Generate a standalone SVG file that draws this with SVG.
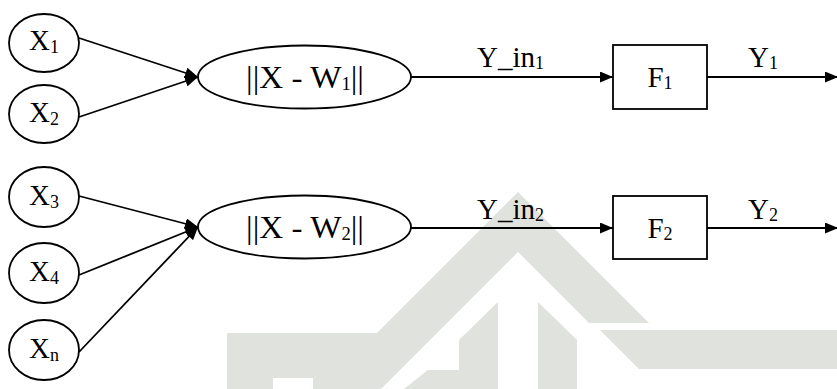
<svg xmlns="http://www.w3.org/2000/svg" width="837" height="389" viewBox="0 0 837 389">
<style>
.wm{fill:#e0e2dd;stroke:none}
.nd{fill:#fff;stroke:#000;stroke-width:1.8}
.t{font-family:"Liberation Serif","Times New Roman",serif;font-size:29px;fill:#000}
.e{font-size:32px}
.s{font-size:18px}
.ln{stroke:#000;stroke-width:1.8;fill:none;marker-end:url(#ah)}
</style>
<defs>
<marker id="ah" viewBox="0 0 13 11" refX="13" refY="5.5" markerWidth="13" markerHeight="11" markerUnits="userSpaceOnUse" orient="auto">
<path d="M0,0 L13,5.5 L0,11 Z" fill="#000"/>
</marker>
</defs>
<g id="watermark">
<polygon class="wm" points="227,389 227,333 377,333 518,192 649,323 589,323 518,252 381,389 313,389 313,378 273,378 273,389"/>
<polygon class="wm" points="459,340 498,302 498,389 404,389 428,370 459,370"/>
<polygon class="wm" points="538,302 577,340 577,389 538,389"/>
<polygon class="wm" points="600,330 837,330 837,369 639,369"/>
</g>
<g id="connectors">
<line class="ln" x1="79" y1="38" x2="198" y2="77"/>
<line class="ln" x1="79" y1="117" x2="198" y2="77"/>
<line class="ln" x1="79" y1="196" x2="198" y2="227"/>
<line class="ln" x1="79" y1="275" x2="198" y2="227"/>
<line class="ln" x1="79" y1="352" x2="198" y2="227"/>
<line class="ln" x1="411" y1="77" x2="613" y2="77"/>
<line class="ln" x1="707" y1="77" x2="838" y2="77"/>
<line class="ln" x1="411" y1="228" x2="613" y2="228"/>
<line class="ln" x1="707" y1="228" x2="838" y2="228"/>
<text class="t" x="477" y="67">Y_in<tspan class="s" dy="2">1</tspan></text>
<text class="t" x="748" y="67">Y<tspan class="s" dy="2">1</tspan></text>
<text class="t" x="477" y="219">Y_in<tspan class="s" dy="2">2</tspan></text>
<text class="t" x="748" y="219">Y<tspan class="s" dy="2">2</tspan></text>
</g>
<g id="x1"><ellipse class="nd" cx="44" cy="43" rx="35" ry="29"/><text class="t" x="44" y="50" text-anchor="middle">X<tspan class="s" dy="3">1</tspan></text></g>
<g id="x2"><ellipse class="nd" cx="44" cy="114" rx="35" ry="29"/><text class="t" x="44" y="122" text-anchor="middle">X<tspan class="s" dy="3">2</tspan></text></g>
<g id="x3"><ellipse class="nd" cx="44" cy="197" rx="35" ry="30"/><text class="t" x="44" y="205" text-anchor="middle">X<tspan class="s" dy="3">3</tspan></text></g>
<g id="x4"><ellipse class="nd" cx="44" cy="273" rx="35" ry="30"/><text class="t" x="44" y="281" text-anchor="middle">X<tspan class="s" dy="3">4</tspan></text></g>
<g id="xn"><ellipse class="nd" cx="44" cy="350" rx="35" ry="30"/><text class="t" x="44" y="358" text-anchor="middle">X<tspan class="s" dy="3">n</tspan></text></g>
<g id="d1"><ellipse class="nd" cx="304.5" cy="77" rx="106.5" ry="31.5"/><text class="t e" x="246" y="88" textLength="118" lengthAdjust="spacingAndGlyphs">||X - W<tspan class="s" dy="2">1</tspan><tspan dy="-2">||</tspan></text></g>
<g id="d2"><ellipse class="nd" cx="304.5" cy="227" rx="106.5" ry="31.5"/><text class="t e" x="246" y="238" textLength="118" lengthAdjust="spacingAndGlyphs">||X - W<tspan class="s" dy="2">2</tspan><tspan dy="-2">||</tspan></text></g>
<g id="f1"><rect class="nd" x="613" y="45" width="94" height="64"/><text class="t" x="660" y="87" text-anchor="middle">F<tspan class="s" dy="2">1</tspan></text></g>
<g id="f2"><rect class="nd" x="613" y="196" width="94" height="63"/><text class="t" x="660" y="238" text-anchor="middle">F<tspan class="s" dy="2">2</tspan></text></g>
</svg>
